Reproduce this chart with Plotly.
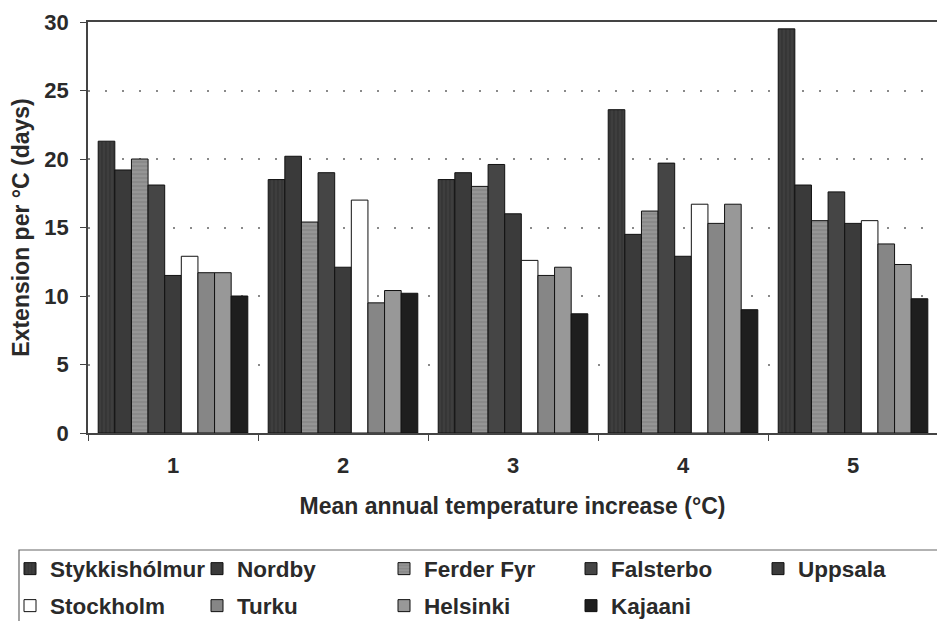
import plotly.graph_objects as go

categories = ["1", "2", "3", "4", "5"]
stations = ["Stykkishólmur", "Nordby", "Ferder Fyr", "Falsterbo", "Uppsala",
            "Stockholm", "Turku", "Helsinki", "Kajaani"]

stykkisholmur = [21.3, 18.5, 18.5, 23.6, 29.5]
nordby = [19.2, 20.2, 19.0, 14.5, 18.1]
ferder_fyr = [20.0, 15.4, 18.0, 16.2, 15.5]
falsterbo = [18.1, 19.0, 19.6, 19.7, 17.6]
uppsala = [11.5, 12.1, 16.0, 12.9, 15.3]
stockholm = [12.9, 17.0, 12.6, 16.7, 15.5]
turku = [11.7, 9.5, 11.5, 15.3, 13.8]
helsinki = [11.7, 10.4, 12.1, 16.7, 12.3]
kajaani = [10.0, 10.2, 8.7, 9.0, 9.8]

series = [stykkisholmur, nordby, ferder_fyr, falsterbo, uppsala,
          stockholm, turku, helsinki, kajaani]
colors = ["#3e3e3e", "#3a3a3a", "#8a8a8a", "#454545", "#3b3b3b",
          "#ffffff", "#868686", "#989898", "#1e1e1e"]
patterns = ["|", "", "-", "", "", "", "", "", ""]
pattern_fg = ["#222222", None, "#b0b0b0", None, None, None, None, None, None]
legend_rows = ["legend", "legend", "legend", "legend", "legend",
               "legend2", "legend2", "legend2", "legend2"]

FONT = "Liberation Sans, Arial, sans-serif"
TXT = "#2a2a2a"

fig = go.Figure()
for name, vals, col, pat, fg, lg in zip(stations, series, colors, patterns,
                                        pattern_fg, legend_rows):
    marker = dict(color=col, line=dict(color="#111111", width=1))
    if pat:
        marker["pattern"] = dict(shape=pat, fgcolor=fg, bgcolor=col, size=4, solidity=0.3)
    fig.add_trace(go.Bar(x=categories, y=vals, name=name, marker=marker, legend=lg))

# plot area: x 88..937 px, y 22..433 px
PW, PH, PL, PB = 849.0, 411.0, 88.0, 433.0
def px_x(x):
    return (x - PL) / PW
def px_y(y):
    return (PB - y) / PH

leg_common = dict(
    orientation="h", xanchor="left", yanchor="middle",
    entrywidth=142, entrywidthmode="pixels",
    borderwidth=0, bgcolor="rgba(0,0,0,0)",
    font=dict(family=FONT, size=22.5, color=TXT, weight="bold"),
    itemwidth=30, tracegroupgap=0,
)

fig.update_layout(
    width=937, height=621,
    margin=dict(l=88, r=0, t=22, b=188, autoexpand=False),
    paper_bgcolor="white", plot_bgcolor="white",
    barmode="group", bargap=0.12, bargroupgap=0,
    font=dict(family=FONT, color=TXT, size=22, weight="bold"),
    legend=dict(x=px_x(10), y=px_y(569), **leg_common),
    legend2=dict(x=px_x(10), y=px_y(606), **leg_common),
    showlegend=True,
    shapes=[dict(type="rect", xref="paper", yref="paper",
                 x0=px_x(19), x1=1.05, y0=px_y(550), y1=px_y(680),
                 line=dict(color="#666666", width=1.2), fillcolor="rgba(0,0,0,0)",
                 layer="below")],
)
fig.update_xaxes(
    type="category", range=[-0.5, 4.494],
    showline=True, linecolor="#444444", linewidth=1.5, mirror=True,
    ticks="outside", tickson="boundaries", ticklen=6, tickcolor="#444444",
    ticklabelstandoff=12,
    tickfont=dict(family=FONT, size=22, color=TXT, weight="bold"),
    title=dict(text="Mean annual temperature increase (°C)",
               font=dict(family=FONT, size=23, color=TXT, weight="bold"), standoff=21),
    showgrid=False,
)
fig.update_yaxes(
    range=[0, 30], dtick=5, tick0=0,
    showline=True, linecolor="#444444", linewidth=1.5,
    ticks="outside", ticklen=6, tickcolor="#444444",
    ticklabelstandoff=7,
    tickfont=dict(family=FONT, size=22, color=TXT, weight="bold"),
    showgrid=True, gridcolor="#8a8a8a", gridwidth=1.5, griddash="2px,15px",
    zeroline=False,
    title=dict(text="Extension per °C (days)",
               font=dict(family=FONT, size=23, color=TXT, weight="bold"), standoff=8),
)

fig.write_html("out.html")
